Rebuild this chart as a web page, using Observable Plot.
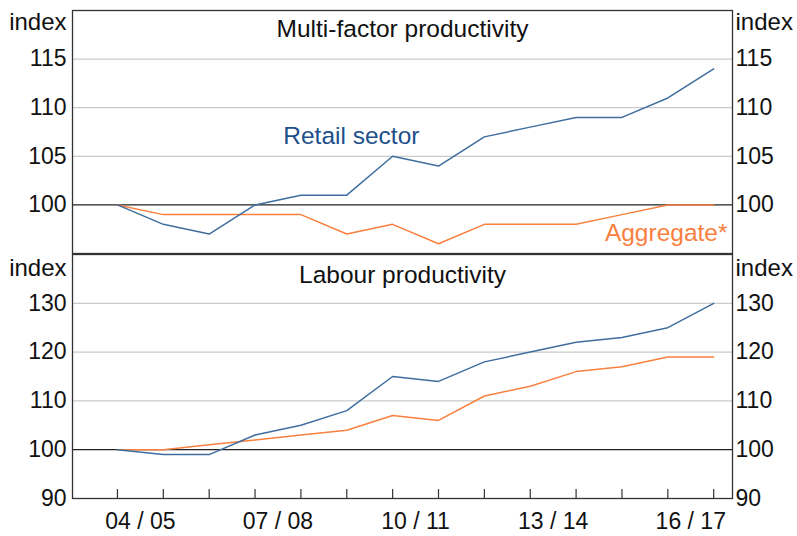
<!DOCTYPE html>
<html>
<head>
<meta charset="utf-8">
<script src="https://cdn.jsdelivr.net/npm/d3@7"></script>
<script src="https://cdn.jsdelivr.net/npm/@observablehq/plot@0.6"></script>
<style>
  html, body { margin: 0; padding: 0; background: #fff; }
  #chart { position: relative; width: 797px; height: 536px; overflow: hidden; }
  #chart > svg { position: absolute; left: 0; }
</style>
</head>
<body>
<div id="chart"></div>
<script>
// Financial-year end points (June of year)
const yearEnd = [2004, 2005, 2006, 2007, 2008, 2009, 2010, 2011, 2012, 2013, 2014, 2015, 2016, 2017];

// Multi-factor productivity (index)
const mfpRetail    = [100, 98, 97, 100, 101, 101, 105, 104, 107, 108, 109, 109, 111, 114];
const mfpAggregate = [100, 99, 99, 99, 99, 97, 98, 96, 98, 98, 98, 99, 100, 100];

// Labour productivity (index)
const lpRetail    = [100, 99, 99, 103, 105, 108, 115, 114, 118, 120, 122, 123, 125, 130];
const lpAggregate = [100, 100, 101, 102, 103, 104, 107, 106, 111, 113, 116, 117, 119, 119];

// Axis ticks
const xTickLabels = ["04 / 05", "07 / 08", "10 / 11", "13 / 14", "16 / 17"];
const xTickPos    = [2004.5, 2007.5, 2010.5, 2013.5, 2016.5];
const mfpTicks = [100, 105, 110, 115];
const lpTicks  = [90, 100, 110, 120, 130];

const BLUE = "#3f6e9e";
const BLUE_TEXT = "#1d4f8a";
const ORANGE = "#f9803e";
const FONT = "'Liberation Sans', Arial, sans-serif";
const FS = 23;
const FS_LABEL = 24.5;
const xDomain = [2003.02, 2017.41];

const rows = (vals) => yearEnd.map((x, i) => ({x, v: vals[i]}));

function panel({height, marginTop, marginBottom, yDomain, ticks, grid, title, titleDy, indexDy, extra}) {
  return Plot.plot({
    width: 797,
    height,
    marginLeft: 72,
    marginRight: 65,
    marginTop,
    marginBottom,
    style: {fontFamily: FONT, fontSize: FS + "px", background: "transparent", color: "#111", overflow: "visible"},
    x: {domain: xDomain, axis: null},
    y: {domain: yDomain, axis: null},
    marks: [
      Plot.ruleY(grid, {stroke: "#bdbdbd", strokeWidth: 1}),
      Plot.ruleY([100], {stroke: "#222", strokeWidth: 1.2}),
      ...extra,
      Plot.frame({stroke: "#333", strokeWidth: 1.3}),
      Plot.axisY({anchor: "left", ticks, tickSize: 0, tickPadding: 6, label: null, fontSize: FS, tickFormat: d => String(d)}),
      Plot.axisY({anchor: "right", ticks, tickSize: 0, tickPadding: 3, label: null, fontSize: FS, tickFormat: d => String(d)}),
      Plot.text(["index"], {text: d => d, frameAnchor: "top-left", lineAnchor: "middle", textAnchor: "end", dx: -6, dy: indexDy, fontSize: 24}),
      Plot.text(["index"], {text: d => d, frameAnchor: "top-right", lineAnchor: "middle", textAnchor: "start", dx: 3, dy: indexDy, fontSize: 24}),
      Plot.text([title], {text: d => d, frameAnchor: "top", lineAnchor: "middle", dy: titleDy, fontSize: FS_LABEL, fill: "#111"})
    ]
  });
}

const topPanel = panel({
  height: 254, marginTop: 10, marginBottom: 1,
  yDomain: [95, 120], ticks: mfpTicks, grid: [105, 110, 115],
  title: "Multi-factor productivity", titleDy: 18.3, indexDy: 11.8,
  extra: [
    Plot.line(rows(mfpAggregate), {x: "x", y: "v", stroke: ORANGE, strokeWidth: 1.5}),
    Plot.line(rows(mfpRetail), {x: "x", y: "v", stroke: BLUE, strokeWidth: 1.5}),
    Plot.text(["Retail sector"], {text: d => d, x: 2009.1, y: 107.1, fill: BLUE_TEXT, fontSize: FS_LABEL}),
    Plot.text(["Aggregate*"], {text: d => d, frameAnchor: "bottom-right", lineAnchor: "bottom", textAnchor: "end", dx: -5, dy: -13, fill: ORANGE, fontSize: FS_LABEL})
  ]
});
topPanel.style.top = "0px";

const bottomPanel = panel({
  height: 283, marginTop: 1, marginBottom: 38,
  yDomain: [90, 140], ticks: lpTicks, grid: [110, 120, 130],
  title: "Labour productivity", titleDy: 20.3, indexDy: 13.5,
  extra: [
    Plot.tickX(yearEnd, {x: d => d, stroke: "#333", strokeWidth: 1.2, insetTop: 244 - 9}),
    Plot.line(rows(lpAggregate), {x: "x", y: "v", stroke: ORANGE, strokeWidth: 1.5}),
    Plot.line(rows(lpRetail), {x: "x", y: "v", stroke: BLUE, strokeWidth: 1.5}),
    Plot.text(xTickPos, {x: d => d, frameAnchor: "bottom", lineAnchor: "middle", text: (d, i) => xTickLabels[i], dy: 23, fontSize: FS, fill: "#111"})
  ]
});
bottomPanel.style.top = "253px";

const chart = document.getElementById("chart");
chart.appendChild(bottomPanel);
chart.appendChild(topPanel);
</script>
</body>
</html>
